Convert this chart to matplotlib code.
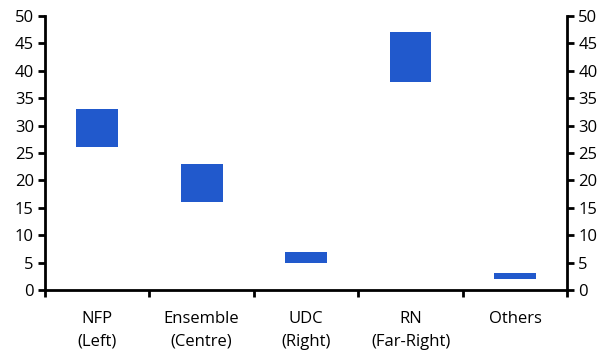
import matplotlib.pyplot as plt
import numpy as np

parties = ['NFP\n(Left)', 'Ensemble\n(Centre)', 'UDC\n(Right)', 'RN\n(Far-Right)', 'Others']
low = [26, 16, 5, 38, 2]
high = [33, 23, 7, 47, 3]

plt.rcParams['font.family'] = ['Open Sans', 'DejaVu Sans']

fig = plt.figure(figsize=(6.13, 3.57), dpi=100)
ax = fig.add_axes([0.0734, 0.188, 0.852, 0.767])

x = np.arange(len(parties))
ax.bar(x, np.array(high) - np.array(low), bottom=low, width=0.4, color='#2159CC')

ax.set_xlim(-0.5, len(parties) - 0.5)
ax.set_ylim(0, 50)
ax.set_yticks(range(0, 51, 5))

# category labels centred, tick marks on the boundaries
ax.set_xticks(np.arange(-0.5, len(parties), 1))
ax.set_xticklabels([])
ax.set_xticks(x, minor=True)
ax.set_xticklabels(parties, minor=True, fontsize=12, linespacing=1.6)
ax.tick_params(axis='x', which='minor', length=0, pad=15)
ax.tick_params(axis='x', which='major', length=5, width=2, direction='out')

ax.tick_params(axis='y', length=5, width=2, labelsize=12, pad=3)
ax.tick_params(axis='y', right=True, labelright=True)

for s in ['left', 'right', 'bottom']:
    ax.spines[s].set_linewidth(2)
ax.spines['top'].set_visible(False)

plt.savefig('out.png', dpi=100)
